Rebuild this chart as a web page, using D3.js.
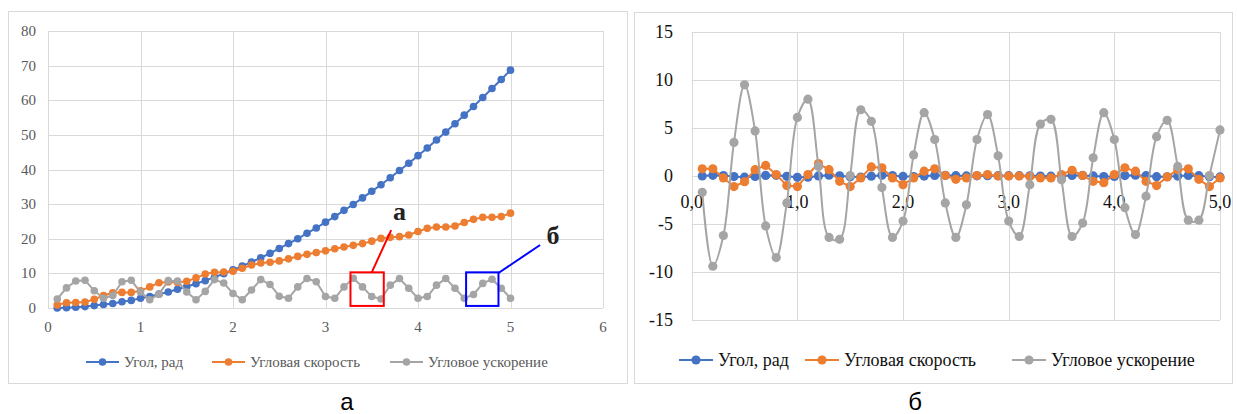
<!DOCTYPE html>
<html>
<head>
<meta charset="utf-8">
<script src="https://cdn.jsdelivr.net/npm/d3@7"></script>
<style>
body { margin: 0; background: #fff; }
svg { display: block; }
text { font-family: "Liberation Serif", "Times New Roman", serif; }
</style>
</head>
<body>
<svg id="chart" width="1237" height="414"></svg>
<script>
// время, с
const time = [0.1,0.2,0.3,0.4,0.5,0.6,0.7,0.8,0.9,1.0,
              1.1,1.2,1.3,1.4,1.5,1.6,1.7,1.8,1.9,2.0,
              2.1,2.2,2.3,2.4,2.5,2.6,2.7,2.8,2.9,3.0,
              3.1,3.2,3.3,3.4,3.5,3.6,3.7,3.8,3.9,4.0,
              4.1,4.2,4.3,4.4,4.5,4.6,4.7,4.8,4.9,5.0];

// панель а
const angleA = [0.0,0.1,0.2,0.4,0.7,1.0,1.3,1.8,2.2,2.8,
                3.3,4.0,4.6,5.4,6.2,7.0,7.9,8.9,9.9,11.0,
                12.1,13.3,14.5,15.8,17.2,18.6,20.0,21.6,23.1,24.8,
                26.4,28.2,29.9,31.8,33.7,35.6,37.6,39.7,41.8,44.0,
                46.2,48.5,50.8,53.2,55.7,58.2,60.8,63.4,66.0,68.7];
const velA = [0.9,1.5,1.6,1.7,2.5,3.6,4.4,4.5,4.5,5.0,
              6.1,7.3,7.5,7.4,7.7,8.7,9.8,10.3,10.4,10.6,
              11.5,12.4,13.0,13.2,13.6,14.2,14.9,15.5,16.0,16.5,
              17.1,17.6,18.1,18.6,19.3,20.1,20.4,20.6,21.1,22.1,
              23.0,23.4,23.4,23.7,24.7,25.6,26.2,26.2,26.4,27.4];
const accA = [2.6,5.8,7.8,8.0,5.0,2.8,3.6,7.6,8.0,4.6,
              2.4,4.0,7.9,7.8,4.6,2.4,4.8,8.2,7.2,4.2,
              2.4,5.2,8.2,6.8,3.4,2.8,6.1,8.5,7.6,3.3,
              2.8,6.1,8.6,6.1,3.3,2.6,6.6,8.5,5.7,2.8,
              3.3,6.6,8.5,5.7,2.8,3.9,7.1,8.3,5.7,2.8];

// панель б
const angleB = [0.0,0.07,0.05,-0.06,-0.12,-0.05,0.06,0.07,-0.03,-0.14,
                -0.12,0.01,0.08,0.02,-0.09,-0.11,-0.02,0.07,0.05,-0.04,
                -0.06,-0.01,0.06,0.07,0.03,0.01,0.02,0.03,0.03,0.03,
                0.03,0.02,0.0,-0.02,0.0,0.06,0.06,0.01,-0.06,-0.05,
                0.04,0.09,0.03,-0.07,-0.08,-0.01,0.06,0.03,-0.08,-0.1];
const velB = [0.75,0.75,-0.2,-1.1,-0.6,0.66,1.1,0.15,-1.0,-1.1,
              0.15,1.3,0.66,-0.55,-1.1,-0.2,0.95,0.85,-0.2,-0.9,
              -0.2,0.5,0.75,0.05,-0.35,-0.2,0.05,0.15,0.0,0.0,
              0.0,-0.05,-0.2,-0.2,0.15,0.6,0.05,-0.55,-0.7,0.15,
              0.85,0.5,-0.55,-1.0,-0.1,0.66,0.75,-0.35,-1.1,-0.2];
const accB = [-1.7,-9.4,-6.2,3.5,9.5,4.7,-5.2,-8.5,-2.8,6.1,
              8.0,1.0,-6.4,-6.6,0.05,6.9,5.7,-1.2,-6.4,-4.7,
              2.2,6.6,3.8,-2.8,-6.4,-3.0,3.8,6.4,2.1,-4.7,
              -6.3,-0.9,5.4,5.9,-0.4,-6.3,-4.9,1.9,6.6,3.8,
              -3.3,-6.1,-2.1,4.1,5.8,1.0,-4.6,-4.6,0.05,4.8];

const seriesNames = ["Угол, рад", "Угловая скорость", "Угловое ускорение"];
const seriesColors = ["#4472C4", "#ED7D31", "#A5A5A5"];

const xTicksA = [0, 1, 2, 3, 4, 5, 6];
const yTicksA = [0, 10, 20, 30, 40, 50, 60, 70, 80];
const xTicksB = [0, 1, 2, 3, 4, 5];
const yTicksB = [-15, -10, -5, 0, 5, 10, 15];

// выделенные участки на панели а: [t0, t1, v0, v1]
const zoomBoxes = [
    {label: "а", color: "#FF0000", box: [3.27, 3.63, 0.6, 10.3]},
    {label: "б", color: "#0000FF", box: [4.52, 4.87, 0.6, 10.3]}
];

const svg = d3.select("#chart");
const grid = "#d9d9d9";

// рамки панелей
svg.append("rect").attr("x", 8.5).attr("y", 11.5).attr("width", 619).attr("height", 372)
    .attr("fill", "#fff").attr("stroke", grid);
svg.append("rect").attr("x", 634.5).attr("y", 12.5).attr("width", 598).attr("height", 371)
    .attr("fill", "#fff").attr("stroke", grid);

function drawPanel(opt) {
    const x = d3.scaleLinear().domain(opt.xDom).range(opt.xRange);
    const y = d3.scaleLinear().domain(opt.yDom).range(opt.yRange);
    const g = svg.append("g");

    g.selectAll(".hg").data(opt.yTicks).join("line")
        .attr("x1", opt.xRange[0]).attr("x2", opt.xRange[1])
        .attr("y1", d => Math.round(y(d)) + 0.5).attr("y2", d => Math.round(y(d)) + 0.5)
        .attr("stroke", grid).attr("stroke-width", 1);
    g.selectAll(".vg").data(opt.xTicks).join("line")
        .attr("x1", d => Math.round(x(d)) + 0.5).attr("x2", d => Math.round(x(d)) + 0.5)
        .attr("y1", opt.yRange[0]).attr("y2", opt.yRange[1])
        .attr("stroke", grid).attr("stroke-width", 1);

    g.selectAll(".yl").data(opt.yTicks).join("text")
        .attr("x", opt.yLabelX).attr("y", d => y(d))
        .attr("text-anchor", "end").attr("dominant-baseline", "central")
        .attr("font-size", opt.fontSize)
        .attr("fill", opt.textColor).text(d => d);
    g.selectAll(".xl").data(opt.xTicks).join("text")
        .attr("x", d => x(d)).attr("y", opt.xLabelY)
        .attr("text-anchor", "middle").attr("dominant-baseline", "central")
        .attr("font-size", opt.fontSize)
        .attr("fill", opt.textColor).text(opt.xFormat);

    opt.series.forEach((vals, k) => {
        const pts = time.map((t, i) => [t, vals[i]]);
        const line = d3.line().x(d => x(d[0])).y(d => y(d[1]))
            .curve(opt.curves[k]);
        g.append("path").datum(pts).attr("d", line)
            .attr("fill", "none").attr("stroke", seriesColors[k])
            .attr("stroke-width", opt.lineWidth).attr("stroke-linejoin", "round");
        g.selectAll(null).data(pts).join("circle")
            .attr("cx", d => x(d[0])).attr("cy", d => y(d[1]))
            .attr("r", opt.r).attr("fill", seriesColors[k]);
    });

    // легенда
    opt.legend.forEach((lx, k) => {
        g.append("line").attr("x1", lx).attr("x2", lx + opt.legLine)
            .attr("y1", opt.legendY).attr("y2", opt.legendY)
            .attr("stroke", seriesColors[k]).attr("stroke-width", opt.lineWidth);
        g.append("circle").attr("cx", lx + opt.legLine / 2).attr("cy", opt.legendY)
            .attr("r", opt.r).attr("fill", seriesColors[k]);
        g.append("text").attr("x", lx + opt.legLine + 5).attr("y", opt.legendY)
            .attr("dominant-baseline", "central")
            .attr("font-size", opt.legendFont)
            .attr("fill", opt.textColor).text(seriesNames[k]);
    });
    return {x, y, g};
}

const pa = drawPanel({
    xDom: [0, 6], xRange: [48, 603], yDom: [0, 80], yRange: [308, 31],
    xTicks: xTicksA, yTicks: yTicksA, xFormat: d => d,
    yLabelX: 36, xLabelY: 327, fontSize: 15, legendFont: 15, textColor: "#595959",
    series: [angleA, velA, accA],
    curves: [d3.curveLinear, d3.curveLinear, d3.curveLinear],
    lineWidth: 2, r: 3.8,
    legend: [86, 212, 390], legLine: 33, legendY: 362
});

const pb = drawPanel({
    xDom: [0, 5], xRange: [691.7, 1220], yDom: [-15, 15], yRange: [320, 32],
    xTicks: xTicksB, yTicks: yTicksB, xFormat: d => d3.format(".1f")(d).replace(".", ","),
    yLabelX: 673, xLabelY: 202, fontSize: 18, legendFont: 18, textColor: "#111",
    series: [angleB, velB, accB],
    curves: [d3.curveLinear, d3.curveLinear, d3.curveCatmullRom],
    lineWidth: 2, r: 4.6,
    legend: [679, 805, 1012], legLine: 34, legendY: 360
});

// выноски на панели а
const leaders = [
    {from: [3.5, 10.3], to: [3.71, 22.5], text: [3.8, 25.3]},
    {from: [4.87, 10.1], to: [5.32, 18.2], text: [5.46, 18.4]}
];
zoomBoxes.forEach((z, i) => {
    const [t0, t1, v0, v1] = z.box;
    pa.g.append("rect")
        .attr("x", pa.x(t0)).attr("y", pa.y(v1))
        .attr("width", pa.x(t1) - pa.x(t0)).attr("height", pa.y(v0) - pa.y(v1))
        .attr("fill", "none").attr("stroke", z.color).attr("stroke-width", 2);
    const L = leaders[i];
    pa.g.append("line")
        .attr("x1", pa.x(L.from[0])).attr("y1", pa.y(L.from[1]))
        .attr("x2", pa.x(L.to[0])).attr("y2", pa.y(L.to[1]))
        .attr("stroke", z.color).attr("stroke-width", 2);
    pa.g.append("text")
        .attr("x", pa.x(L.text[0])).attr("y", pa.y(L.text[1]))
        .attr("text-anchor", "middle").attr("font-weight", "bold")
        .attr("font-size", 26).attr("fill", "#222").text(z.label);
});

// подписи панелей
svg.append("text").attr("x", 347).attr("y", 410).attr("text-anchor", "middle")
    .style("font-family", "'Liberation Sans', Arial, sans-serif").attr("font-size", 24)
    .attr("fill", "#000").text("а");
svg.append("text").attr("x", 915).attr("y", 410).attr("text-anchor", "middle")
    .style("font-family", "'Liberation Sans', Arial, sans-serif").attr("font-size", 24)
    .attr("fill", "#000").text("б");
</script>
</body>
</html>
